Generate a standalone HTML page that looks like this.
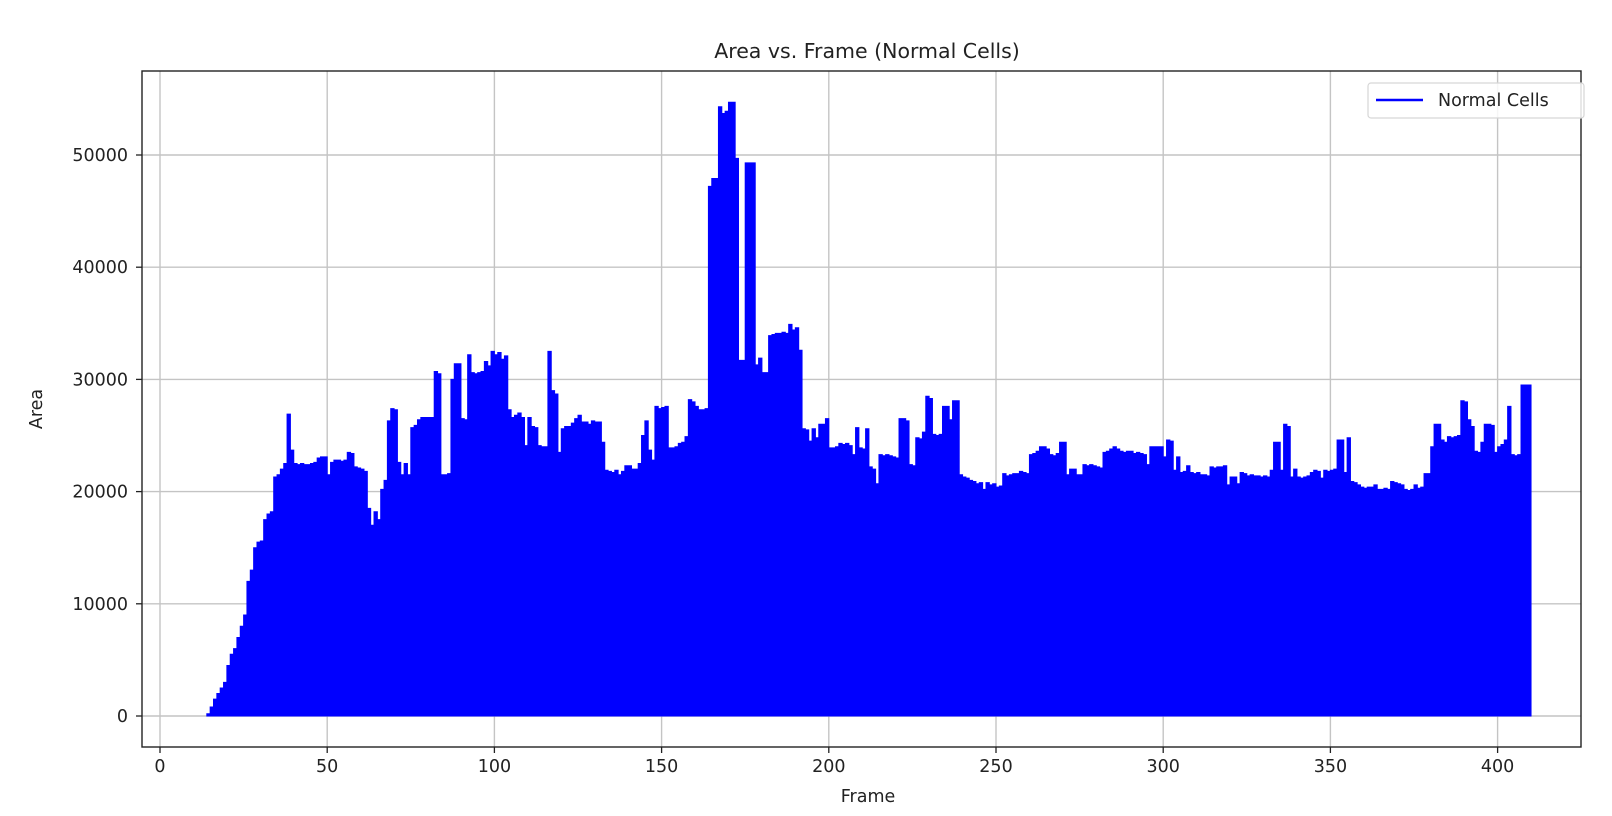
<!DOCTYPE html>
<html><head><meta charset="utf-8"><style>
html,body{margin:0;padding:0;background:#fff;}
svg text{font-family:"DejaVu Sans","Liberation Sans",sans-serif;fill:#222;}
</style></head><body>
<svg id="chart" width="1612" height="811" viewBox="0 0 1612 811" xmlns="http://www.w3.org/2000/svg">
<rect x="0" y="0" width="1612" height="811" fill="#fff"/>
<g id="grid"></g>
<g id="series"></g>
<g id="axes"></g>
<text x="867" y="58" font-size="20.5" text-anchor="middle">Area vs. Frame (Normal Cells)</text>
<text x="868" y="802" font-size="17.5" text-anchor="middle">Frame</text>
<text x="0" y="0" font-size="17.5" text-anchor="middle" transform="translate(42,409) rotate(-90)">Area</text>
<g>
<rect x="1368" y="83" width="216" height="35" rx="3" fill="#fff" fill-opacity="0.85" stroke="#d6d6d6" stroke-width="1.2"/>
<line x1="1376" y1="100" x2="1423" y2="100" stroke="#0000ff" stroke-width="2.5"/>
<text x="1438" y="106" font-size="17.5">Normal Cells</text>
</g>
</svg>
<script>
const startFrame = 14;
const areaK = [
0.2,0.8,1.5,2,2.5,3,4.5,5.5,6,7,8,9,12,13,15,15.5,15.6,17.5,18,18.2,
21.3,21.5,22,22.5,26.9,23.7,
22.5,22.4,22.5,22.4,22.4,22.5,22.6,23,23.1,23.1,21.5,
22.6,22.8,22.8,22.7,22.8,23.5,23.4,22.2,22.1,22,21.8,
18.5,17,18.2,17.5,20.2,21,26.3,27.4,27.3,22.6,21.5,22.5,
21.5,25.7,25.9,26.4,26.6,26.6,26.6,26.6,30.7,30.5,21.5,
21.5,21.6,30,31.4,31.4,26.5,26.4,32.2,30.6,30.5,30.6,30.7,
31.6,31.2,32.5,32.2,32.4,31.8,32.1,27.3,26.6,26.8,27,26.6,24.1,26.6,
25.8,25.7,24.1,24,24,32.5,29,28.7,23.5,25.6,25.8,25.8,26.1,26.5,26.8,
26.2,26.2,26,26.3,26.2,26.2,24.4,21.9,21.8,21.7,21.9,21.5,21.8,22.3,22.3,
22,22,22.5,25,26.3,23.7,22.8,27.6,27.4,27.5,27.6,23.9,23.9,24,24.3,24.4,24.9,
28.2,28,27.6,27.3,27.3,27.4,47.2,47.9,47.9,54.3,53.7,53.9,54.7,54.7,49.7,
31.7,31.7,49.3,49.3,49.3,31.3,31.9,30.6,30.6,33.9,34,34.1,34.1,34.2,34.1,
34.9,34.4,34.6,32.6,25.6,25.5,24.5,25.6,24.8,26,26,26.5,23.9,23.9,24,
24.3,24.2,24.3,24.1,23.3,25.7,23.9,23.8,25.6,22.2,22,20.7,
23.3,23.2,23.3,23.2,23.1,23,26.5,26.5,26.3,22.4,22.3,24.8,24.7,25.3,28.5,28.3,
25.1,25,25.1,27.6,27.6,26.4,28.1,28.1,21.5,21.3,21.2,21,20.9,20.7,20.8,20.2,
20.8,20.6,20.7,20.4,20.5,21.6,21.4,21.5,21.6,21.6,21.8,21.7,21.6,23.3,23.4,23.6,
24,24,23.8,23.3,23.2,23.4,24.4,24.4,21.5,22,22,21.5,21.5,
22.4,22.3,22.4,22.3,22.2,22.1,23.5,23.6,23.8,24,23.8,
23.6,23.5,23.6,23.6,23.4,23.5,23.4,23.3,22.4,24,24,24,24,23.1,24.6,24.5,
21.9,23.1,21.7,21.8,22.3,21.7,21.6,21.7,21.5,21.5,21.4,22.2,22.1,22.2,22.2,22.3,
20.6,21.3,21.3,20.7,21.7,21.6,21.4,21.5,21.4,21.4,21.3,21.4,21.3,21.9,24.4,24.4,
21.9,26,25.8,21.3,22,21.3,21.2,21.3,21.4,21.7,21.9,21.8,21.2,21.9,21.8,21.9,22,
24.6,24.6,21.7,24.8,20.9,20.8,20.6,20.4,20.3,20.4,20.4,20.6,20.2,20.2,20.3,20.2,
20.9,20.8,20.7,20.6,20.2,20.1,20.2,20.6,20.3,20.4,21.6,21.6,24,26,26,24.6,24.4,
24.9,24.8,24.9,25,28.1,28,26.4,25.8,23.6,23.5,24.4,26,26,25.9,23.5,24,24.2,24.6,
27.6,23.3,23.2,23.3,29.5,29.5,29.5
];
const xTicks = [0,50,100,150,200,250,300,350,400];
const xTickLabels = ["0","50","100","150","200","250","300","350","400"];
const yTicks = [0,10000,20000,30000,40000,50000];
const yTickLabels = ["0","10000","20000","30000","40000","50000"];

const PL=142, PR=1581, PT=71, PB=747;
function xs(f){ return 160 + f*3.344; }
function ys(v){ return 716 - v*0.01122; }
const NS="http://www.w3.org/2000/svg";
const grid=document.getElementById('grid'), axes=document.getElementById('axes'), series=document.getElementById('series');
function mk(tag, attrs, parent){ const e=document.createElementNS(NS,tag); for(const k in attrs) e.setAttribute(k,attrs[k]); parent.appendChild(e); return e; }

xTicks.forEach((t,i)=>{
  const x=xs(t);
  const g=mk('line',{x1:x,y1:PT,x2:x,y2:PB,stroke:'#c4c4c4','stroke-width':1.4},grid);
  
  
  const tk=mk('line',{x1:x,y1:PB,x2:x,y2:PB+6,stroke:'#222','stroke-width':1.3},axes);
  
  
  const tx=mk('text',{x:x,y:PB+25,'font-size':17.5,'text-anchor':'middle'},axes);
  tx.textContent=xTickLabels[i];
  
  
});
yTicks.forEach((t,i)=>{
  const y=ys(t);
  const g=mk('line',{x1:PL,y1:y,x2:PR,y2:y,stroke:'#c4c4c4','stroke-width':1.4},grid);
  
  
  const tk=mk('line',{x1:PL-6,y1:y,x2:PL,y2:y,stroke:'#222','stroke-width':1.3},axes);
  
  
  const tx=mk('text',{x:PL-14,y:y+6,'font-size':17.5,'text-anchor':'end'},axes);
  tx.textContent=yTickLabels[i];
  
  
});
const frame=mk('rect',{x:PL,y:PT,width:PR-PL,height:PB-PT,fill:'none',stroke:'#222','stroke-width':1.4},axes);



let d='M'+xs(startFrame)+','+ys(0);
areaK.forEach((v,i)=>{
  const f=startFrame+i, val=v*1000;
  d+=' L'+xs(f)+','+ys(val)+' L'+xs(f+1)+','+ys(val);
});
const lastF=startFrame+areaK.length;
d+=' L'+xs(lastF)+','+ys(0)+' Z';
const p=mk('path',{d:d,fill:'#0000ff',stroke:'#0000ff','stroke-width':1},series);


</script>
</body></html>
